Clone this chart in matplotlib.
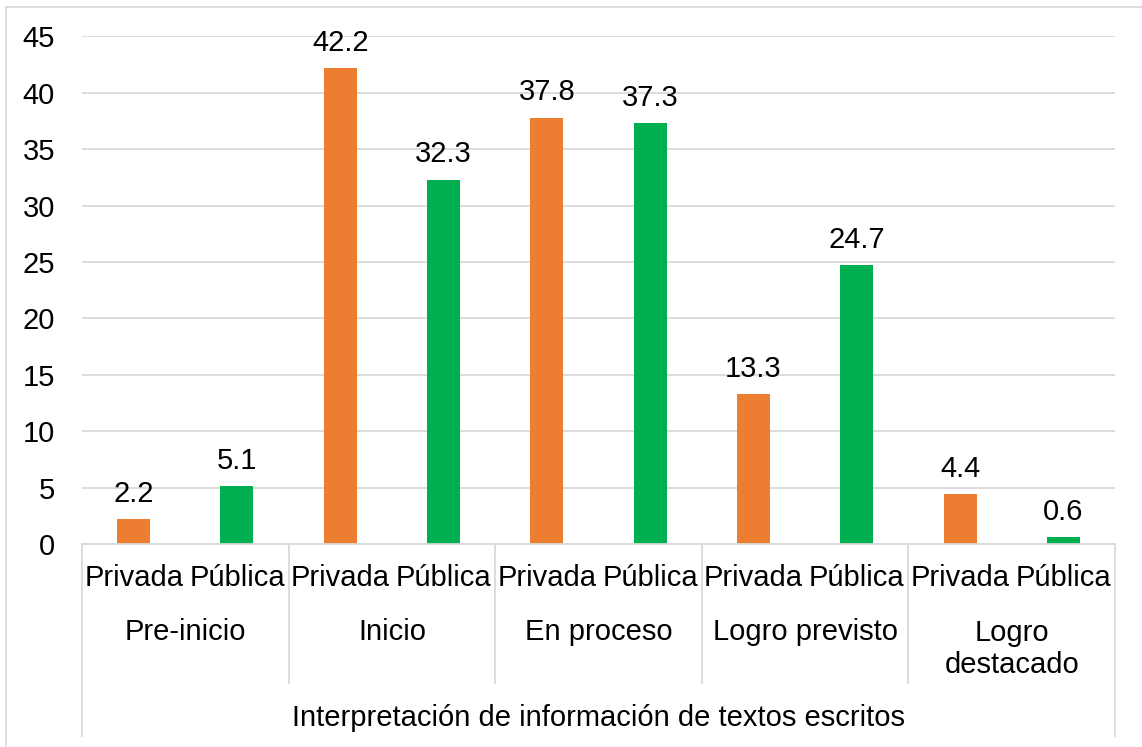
import numpy as np
import matplotlib.pyplot as plt
import matplotlib.transforms as mtransforms
from matplotlib.lines import Line2D

plt.rcParams['font.family'] = ['Liberation Sans', 'DejaVu Sans']

groups = ['Pre-inicio', 'Inicio', 'En proceso', 'Logro previsto', 'Logro\ndestacado']
series = ['Privada', 'Pública']
privada = [2.2, 42.2, 37.8, 13.3, 4.4]
publica = [5.1, 32.3, 37.3, 24.7, 0.6]
title = 'Interpretación de información de textos escritos'

W, H = 1142, 747
fig = plt.figure(figsize=(W / 100, H / 100), dpi=100)
x0, x1, y0, y1 = 82, 1115, 544, 36.4
ax = fig.add_axes([x0 / W, 1 - y0 / H, (x1 - x0) / W, (y0 - y1) / H])

fs = 21
orange = '#ED7D31'
green = '#00B050'
grey = '#D9D9D9'

n = len(groups)
pos_priv = np.arange(n) * 2
pos_pub = np.arange(n) * 2 + 1
bw = 0.32
b1 = ax.bar(pos_priv, privada, width=bw, color=orange, zorder=2)
b2 = ax.bar(pos_pub, publica, width=bw, color=green, zorder=2)

for bars, vals in ((b1, privada), (b2, publica)):
    for r, v in zip(bars, vals):
        ax.annotate(f'{v:.1f}', (r.get_x() + r.get_width() / 2, v),
                    xytext=(0, 12.5), textcoords='offset points',
                    ha='center', va='baseline', fontsize=fs, zorder=3)

ax.set_xlim(-0.5, 2 * n - 0.5)
ax.set_ylim(0, 45)
ax.set_yticks(np.arange(0, 46, 5))
ax.yaxis.grid(True, color=grey, linewidth=1.3, zorder=0)
ax.set_axisbelow(True)
ax.tick_params(axis='y', length=0, pad=19.5, labelsize=fs)
ax.tick_params(axis='x', length=0, labelbottom=False)
for s in ['top', 'right', 'left']:
    ax.spines[s].set_visible(False)
ax.spines['bottom'].set_color(grey)
ax.spines['bottom'].set_linewidth(1.3)

# multi-level category axis
trans = mtransforms.blended_transform_factory(ax.transData, ax.transAxes)
ph = y0 - y1
def fy(py):
    return (y0 - py) / ph

for i in range(n):
    ax.text(pos_priv[i], fy(578), series[0], transform=trans, ha='center', va='center', fontsize=fs)
    ax.text(pos_pub[i], fy(578), series[1], transform=trans, ha='center', va='center', fontsize=fs)
    gy = 649 if '\n' in groups[i] else 632
    ax.text(pos_priv[i] + 0.5, fy(gy), groups[i], transform=trans, ha='center', va='center',
            fontsize=fs, linespacing=1.17)

bounds = np.arange(n + 1) * 2 - 0.5
for k, b in enumerate(bounds):
    bottom = 736 if k in (0, n) else 683
    ax.add_line(Line2D([b, b], [0, fy(bottom)], transform=trans, color=grey,
                       linewidth=1.3, clip_on=False))

ax.text(0.5, fy(718), title, transform=ax.transAxes, ha='center', va='center', fontsize=fs)

# chart border
fig.add_artist(Line2D([6 / W, 6 / W], [0, 1 - 7 / H], color=grey, linewidth=1.3))
fig.add_artist(Line2D([6 / W, 1], [1 - 7 / H, 1 - 7 / H], color=grey, linewidth=1.3))

fig.savefig('out.png', dpi=100)
